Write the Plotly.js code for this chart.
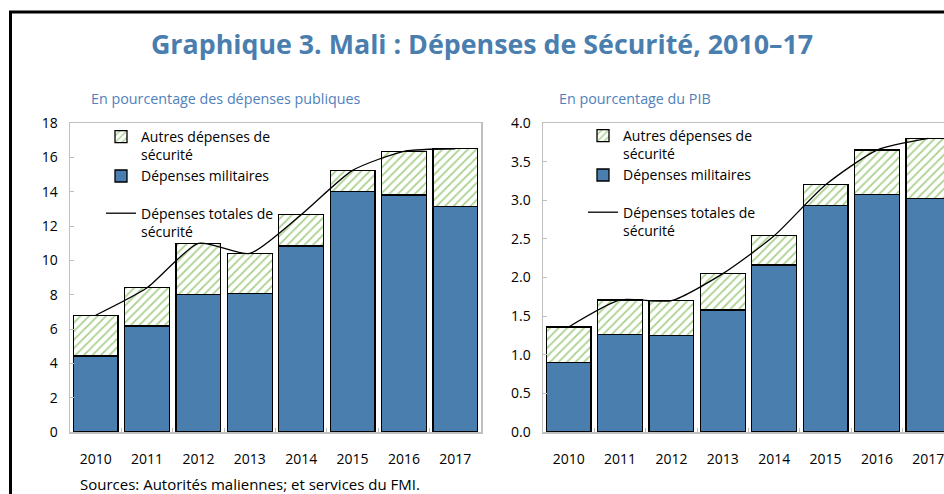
<!DOCTYPE html>
<html>
<head>
<meta charset="utf-8">
<script src="https://cdn.plot.ly/plotly-3.0.1.min.js"></script>
<style>html,body{margin:0;padding:0;overflow:hidden;background:#fff}</style>
</head>
<body>
<div id="chart" style="width:944px;height:494px"></div>
<script>
const years = ["2010","2011","2012","2013","2014","2015","2016","2017"];
// En pourcentage des dépenses publiques
const militaryPub = [4.43, 6.17, 8.03, 8.05, 10.83, 14.0, 13.8, 13.14];
const totalPub    = [6.8, 8.4, 10.99, 10.4, 12.66, 15.24, 16.35, 16.5];
// En pourcentage du PIB
const militaryPib = [0.9, 1.26, 1.25, 1.58, 2.16, 2.93, 3.07, 3.02];
const totalPib    = [1.36, 1.71, 1.70, 2.05, 2.54, 3.20, 3.65, 3.80];

const nameOther = "Autres dépenses de<br>sécurité";
const nameMil = "Dépenses militaires";
const nameTot = "Dépenses totales de<br>sécurité";

const W = 944, H = 494;
const px = v => v / W;
const py = v => (H - v) / H;

const blue = "#4A7EAF";
const hatch = {shape: "/", fgcolor: "#A9D18E", bgcolor: "#FFFFFF", size: 6, solidity: 0.3};
const fontFam = "'Open Sans', 'Noto Sans', sans-serif";

function traces(mil, tot, xa, ya, lg) {
  const other = tot.map((t, i) => +(t - mil[i]).toFixed(3));
  return [
    {type: "bar", x: years, y: mil, name: nameMil, xaxis: xa, yaxis: ya, legend: lg,
     legendgroup: "bars", legendrank: 2,
     marker: {color: blue, line: {color: "#000", width: 1.3}}, hoverinfo: "y"},
    {type: "bar", x: years, y: other, name: nameOther, xaxis: xa, yaxis: ya, legend: lg,
     legendgroup: "bars", legendrank: 1,
     marker: {color: "#FFFFFF", pattern: hatch, line: {color: "#000", width: 1.3}}, hoverinfo: "y"},
    {type: "scatter", mode: "lines", x: years, y: tot, name: nameTot, xaxis: xa, yaxis: ya, legend: lg,
     legendgroup: "line", legendrank: 3,
     line: {color: "#000", width: 1.3, shape: "spline", smoothing: 0.6}, hoverinfo: "y"}
  ];
}

const data = [].concat(
  traces(militaryPub, totalPub, "x", "y", "legend"),
  traces(militaryPib, totalPib, "x2", "y2", "legend2")
);

const axisCommon = {
  showline: true, linecolor: "#BFBFBF", linewidth: 1.5, mirror: true,
  showgrid: false, zeroline: false, ticks: "inside", ticklen: 4, tickcolor: "#BFBFBF",
  tickfont: {family: fontFam, size: 14, color: "#000"}, fixedrange: true
};

const legendCommon = {
  font: {family: fontFam, size: 14, color: "#000"},
  bgcolor: "rgba(0,0,0,0)", traceorder: "grouped", tracegroupgap: 16,
  valign: "top", xanchor: "left", yanchor: "top"
};

const layout = {
  width: W, height: H,
  margin: {l: 0, r: 0, t: 0, b: 0},
  paper_bgcolor: "#fff", plot_bgcolor: "#fff",
  barmode: "stack", bargap: 0.13,
  showlegend: true,
  title: {text: "Graphique 3. Mali : Dépenses de Sécurité, 2010–17",
    font: {family: fontFam, size: 26.8, color: "#4A7EAF", weight: 700},
    x: 482 / W, xanchor: "center", y: py(45), yanchor: "middle", xref: "paper", yref: "paper"},
  xaxis: Object.assign({}, axisCommon, {domain: [px(70), px(481)], anchor: "y",
    type: "category", range: [-0.5, 7.5], tickson: "boundaries", ticklabelstandoff: 14}),
  yaxis: Object.assign({}, axisCommon, {domain: [py(432), py(123)], anchor: "x",
    range: [0, 18], dtick: 2, tick0: 0, ticklabelstandoff: 8}),
  xaxis2: Object.assign({}, axisCommon, {domain: [px(543), 1], anchor: "y2",
    type: "category", range: [-0.5, -0.5 + 8 * (944 - 543) / 411], tickson: "boundaries", ticklabelstandoff: 14}),
  yaxis2: Object.assign({}, axisCommon, {domain: [py(432), py(123)], anchor: "x2",
    range: [0, 4], dtick: 0.5, tick0: 0, tickformat: ".1f", ticklabelstandoff: 8}),
  legend: Object.assign({}, legendCommon, {x: px(101), y: py(121)}),
  legend2: Object.assign({}, legendCommon, {x: px(583), y: py(120)}),
  annotations: [
    {text: "En pourcentage des dépenses publiques", xref: "paper", yref: "paper",
     x: px(89), y: py(99), xanchor: "left", yanchor: "middle", showarrow: false,
     font: {family: fontFam, size: 14.3, color: "#4F81BD"}},
    {text: "En pourcentage du PIB", xref: "paper", yref: "paper",
     x: px(557), y: py(99), xanchor: "left", yanchor: "middle", showarrow: false,
     font: {family: fontFam, size: 14.3, color: "#4F81BD"}},
    {text: "Sources: Autorités maliennes; et services du FMI.", xref: "paper", yref: "paper",
     x: px(78), y: py(484), xanchor: "left", yanchor: "middle", showarrow: false,
     font: {family: fontFam, size: 15, color: "#000"}}
  ],
  shapes: [
    {type: "line", xref: "paper", yref: "paper", x0: px(10.5), x1: px(10.5), y0: -0.05, y1: py(12),
     line: {color: "#000", width: 3}},
    {type: "line", xref: "paper", yref: "paper", x0: px(9), x1: 1.05, y0: py(12), y1: py(12),
     line: {color: "#000", width: 3}}
  ]
};

Plotly.newPlot("chart", data, layout, {displayModeBar: false, staticPlot: true});
</script>
</body>
</html>
